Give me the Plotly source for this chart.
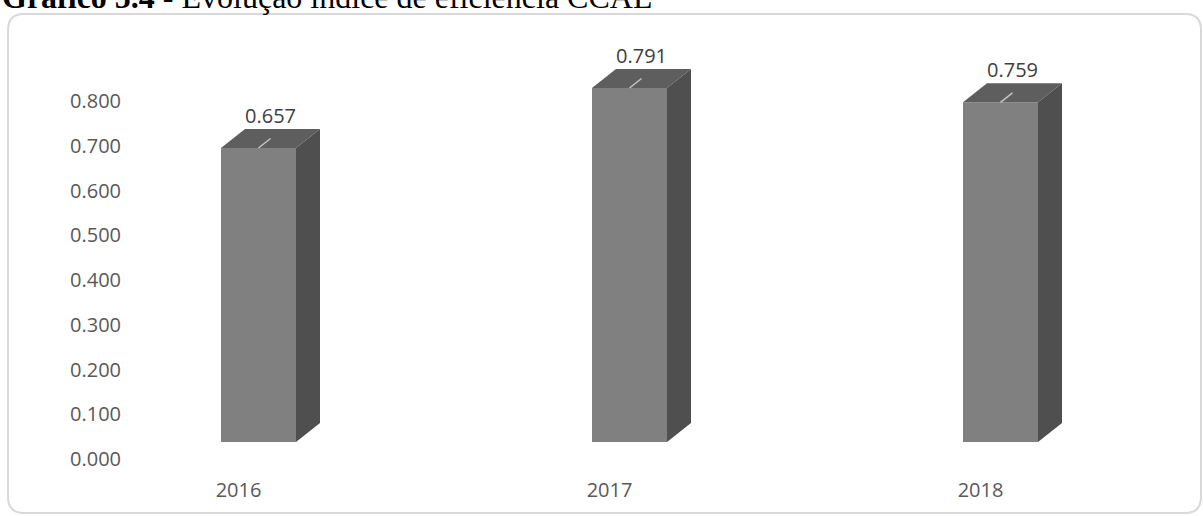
import plotly.graph_objects as go

# ---- data -------------------------------------------------------------
years = ["2016", "2017", "2018"]
indices = [0.657, 0.791, 0.759]
y_ticks = [0.0, 0.1, 0.2, 0.3, 0.4, 0.5, 0.6, 0.7, 0.8]
y_tick_labels = [f"{t:.3f}" for t in y_ticks]

# ---- geometry (pixels) -------------------------------------------------
W, H = 1203, 516
PL, PR, PT, PB = 130, 1190, 40, 460      # plot area edges
X_UNIT = 371.0                           # pixels per category step
Y_UNIT = 447.5                           # pixels per index unit
FIRST_CENTER = 258.5                     # pixel x of the first column centre
ZERO_Y = 442.0                           # pixel y of the column base
BAR_PX = 75                              # front face width
DEPTH_X, DEPTH_Y = 24, 19                # 3-D depth offset of the columns

x_range = [-(FIRST_CENTER - PL) / X_UNIT, (PR - FIRST_CENTER) / X_UNIT]
y_range = [-(PB - ZERO_Y) / Y_UNIT, (ZERO_Y - PT) / Y_UNIT]
bw = BAR_PX / X_UNIT
dx = DEPTH_X / X_UNIT
dy = DEPTH_Y / Y_UNIT

FRONT = "#808080"
TOP = "#5e5e5e"
SIDE = "#4f4f4f"
TEXT = "#595959"
FONT = "Open Sans"

xs = list(range(len(years)))

fig = go.Figure()

# front faces of the columns
fig.add_trace(go.Bar(
    x=xs, y=indices, width=bw,
    marker=dict(color=FRONT, line=dict(width=0)),
    hoverinfo="skip", showlegend=False,
))

# top and right-hand faces give the columns their depth
for i, v in zip(xs, indices):
    l, r = i - bw / 2, i + bw / 2
    fig.add_trace(go.Scatter(
        x=[l, r, r + dx, l + dx, l], y=[v, v, v + dy, v + dy, v],
        mode="lines", fill="toself", fillcolor=TOP,
        line=dict(width=0, color=TOP), hoverinfo="skip", showlegend=False,
    ))
    fig.add_trace(go.Scatter(
        x=[r, r + dx, r + dx, r, r], y=[0, dy, v + dy, v, 0],
        mode="lines", fill="toself", fillcolor=SIDE,
        line=dict(width=0, color=SIDE), hoverinfo="skip", showlegend=False,
    ))
    # leader line from the column top towards its label
    fig.add_trace(go.Scatter(
        x=[i, i + dx / 2], y=[v, v + dy / 2],
        mode="lines", line=dict(width=1.5, color="#c4c4c4"),
        hoverinfo="skip", showlegend=False,
    ))

# value labels
for i, v in zip(xs, indices):
    fig.add_annotation(
        x=i + dx / 2, y=v + dy, text=f"{v:.3f}",
        showarrow=False, yanchor="bottom", yshift=-2,
        font=dict(family=FONT, size=20, color="#404040"),
    )

# heading above the chart frame
fig.add_annotation(
    xref="paper", yref="paper",
    x=-PL / (PR - PL), y=1, xanchor="left", yanchor="middle", yshift=PT + 3,
    text="<b>Gráfico 5.4</b> - Evolução índice de eficiência CCAL",
    showarrow=False,
    font=dict(family="Liberation Serif", size=32, color="#000000"),
)

# rounded chart frame (pixels relative to the plot area's top-left corner)
fl, fr, ft, fb, rad = 8 - PL, 1201 - PL, PT - 14, -(513 - PT), 16
frame = (f"M {fl + rad},{ft} L {fr - rad},{ft} Q {fr},{ft} {fr},{ft - rad} "
         f"L {fr},{fb + rad} Q {fr},{fb} {fr - rad},{fb} "
         f"L {fl + rad},{fb} Q {fl},{fb} {fl},{fb + rad} "
         f"L {fl},{ft - rad} Q {fl},{ft} {fl + rad},{ft} Z")
fig.add_shape(
    type="path", path=frame, xref="paper", yref="paper",
    xsizemode="pixel", ysizemode="pixel", xanchor=0, yanchor=1,
    line=dict(color="#d9d9d9", width=2), fillcolor="rgba(0,0,0,0)", layer="below",
)

fig.update_layout(
    width=W, height=H,
    margin=dict(l=PL, r=W - PR, t=PT, b=H - PB, pad=0),
    paper_bgcolor="white", plot_bgcolor="white",
    showlegend=False,
    xaxis=dict(
        range=x_range, tickvals=xs, ticktext=years,
        showgrid=False, zeroline=False, showline=False, ticks="",
        ticklabelshift=-20, ticklabelstandoff=16,
        tickfont=dict(family=FONT, size=20, color=TEXT),
    ),
    yaxis=dict(
        range=y_range, tickvals=y_ticks, ticktext=y_tick_labels,
        showgrid=False, zeroline=False, showline=False, ticks="",
        ticklabelshift=17, ticklabelstandoff=8,
        tickfont=dict(family=FONT, size=20, color=TEXT),
    ),
)

fig.write_html("out.html")
